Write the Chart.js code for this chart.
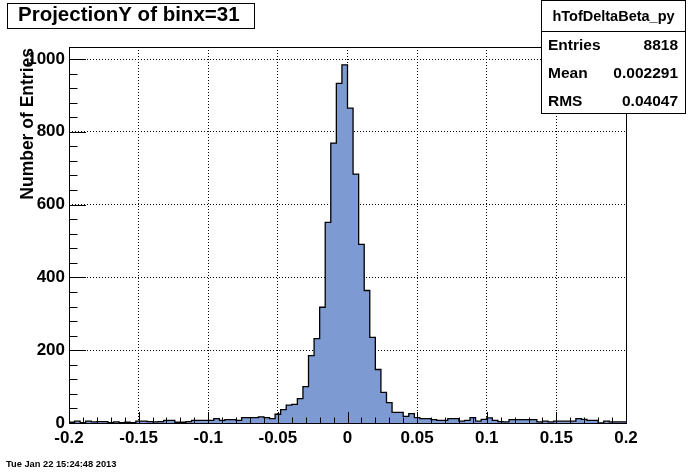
<!DOCTYPE html>
<html>
<head>
<meta charset="utf-8">
<script src="https://cdn.jsdelivr.net/npm/chart.js@4/dist/chart.umd.min.js"></script>
<style>
  html, body { margin: 0; padding: 0; background: #fff; }
  canvas { display: block; }
</style>
</head>
<body>
<canvas id="hist" width="696" height="472"></canvas>
<script>
// histogram binning
const xMin = -0.2;
const xMax = 0.2;
const binWidth = 0.004;

// bin contents (100 bins)
const binCounts = [
  2, 2, 5, 1, 5, 3, 4, 4, 1, 3,
  1, 2, 1, 5, 5, 4, 3, 4, 7, 7,
  2, 2, 4, 7, 7, 7, 7, 12, 7, 9,
  9, 7, 15, 15, 15, 17, 15, 12, 24, 37,
  49, 51, 67, 100, 185, 232, 318, 551, 769, 933,
  984, 865, 684, 491, 364, 235, 147, 84, 56, 29,
  29, 18, 26, 15, 12, 12, 9, 7, 7, 12,
  12, 5, 7, 15, 5, 10, 14, 7, 4, 3,
  9, 9, 9, 9, 9, 3, 5, 3, 5, 5,
  5, 5, 12, 10, 7, 7, 0, 5, 3, 3
];

// axes
const yMax = 1033;
const xTickValues = [-0.2, -0.15, -0.1, -0.05, 0, 0.05, 0.1, 0.15, 0.2];
const xTickLabels = ['-0.2', '-0.15', '-0.1', '-0.05', '0', '0.05', '0.1', '0.15', '0.2'];
const xMinorStep = 0.01;
const yTickValues = [0, 200, 400, 600, 800, 1000];
const yTickLabels = ['0', '200', '400', '600', '800', '1000'];
const yMinorStep = 40;

// texts
const titleText = 'ProjectionY of binx=31';
const yTitle = 'Number of Entries';
const statsName = 'hTofDeltaBeta_py';
const statsLabels = ['Entries', 'Mean', 'RMS'];
const statsValues = ['8818', '0.002291', '0.04047'];
const dateText = 'Tue Jan 22 15:24:48 2013';

const FONT = '"Liberation Sans", Arial, Helvetica, sans-serif';
const fillColor = '#7d9bd2';

// build step points at the left edge of each bin, plus the closing edge
const points = binCounts.map((c, i) => ({ x: xMin + i * binWidth, y: c }));
points.push({ x: xMax, y: binCounts[binCounts.length - 1] });

// ROOT-like frame, ticks and boxes
const rootStyle = {
  id: 'rootStyle',
  beforeDraw(chart) {
    const ctx = chart.ctx;
    ctx.save();
    ctx.fillStyle = '#fff';
    ctx.fillRect(0, 0, chart.width, chart.height);
    ctx.restore();
  },
  afterDatasetsDraw(chart) {
    const { ctx, chartArea: a, scales: { x, y } } = chart;
    ctx.save();
    ctx.strokeStyle = '#000';
    ctx.lineWidth = 1;

    // x ticks (inside the frame)
    const nx = Math.round((xMax - xMin) / xMinorStep);
    for (let i = 0; i <= nx; i++) {
      const v = xMin + i * xMinorStep;
      const px = Math.round(x.getPixelForValue(v)) + 0.5;
      const major = i % 5 === 0;
      const len = major ? 11 : 5.5;
      ctx.beginPath();
      ctx.moveTo(px, a.bottom);
      ctx.lineTo(px, a.bottom - len);
      ctx.stroke();
    }
    // y ticks
    for (let v = 0; v <= yMax; v += yMinorStep) {
      const py = Math.round(y.getPixelForValue(v)) + 0.5;
      const major = v % 200 === 0;
      const len = major ? 17 : 8.5;
      ctx.beginPath();
      ctx.moveTo(a.left, py);
      ctx.lineTo(a.left + len, py);
      ctx.stroke();
    }

    // frame
    ctx.strokeRect(a.left + 0.5, a.top + 0.5, a.right - a.left, a.bottom - a.top);
    ctx.restore();
  },
  afterDraw(chart) {
    const ctx = chart.ctx;
    ctx.save();
    ctx.fillStyle = '#000';
    ctx.strokeStyle = '#000';
    ctx.lineWidth = 1;

    // title box
    ctx.fillStyle = '#fff';
    ctx.fillRect(7.5, 3.5, 247, 25);
    ctx.strokeRect(7.5, 3.5, 247, 25);
    ctx.fillStyle = '#000';
    ctx.font = 'bold 20.5px ' + FONT;
    ctx.textBaseline = 'alphabetic';
    ctx.textAlign = 'left';
    ctx.fillText(titleText, 18, 21);

    // stats box
    const bx = 541.5, by = 0.5, bw = 144, bh = 113;
    ctx.fillStyle = '#fff';
    ctx.fillRect(bx, by, bw, bh);
    ctx.strokeRect(bx, by, bw, bh);
    ctx.beginPath();
    ctx.moveTo(bx, 31.5);
    ctx.lineTo(bx + bw, 31.5);
    ctx.stroke();
    ctx.fillStyle = '#000';
    ctx.font = 'bold 14.5px ' + FONT;
    ctx.textAlign = 'center';
    ctx.fillText(statsName, bx + bw / 2, 21);
    ctx.font = 'bold 15.5px ' + FONT;
    statsLabels.forEach((lab, i) => {
      const base = 50 + i * 28;
      ctx.textAlign = 'left';
      ctx.fillText(lab, 548, base);
      ctx.textAlign = 'right';
      ctx.fillText(statsValues[i], 678, base);
    });

    // y axis title
    ctx.save();
    ctx.translate(33, 48);
    ctx.rotate(-Math.PI / 2);
    ctx.font = 'bold 17.5px ' + FONT;
    ctx.textAlign = 'right';
    ctx.fillText(yTitle, 0, 0);
    ctx.restore();

    // date stamp
    ctx.font = 'bold 9.3px ' + FONT;
    ctx.textAlign = 'left';
    ctx.fillText(dateText, 6, 467);
    ctx.restore();
  }
};

const tickFont = { family: FONT, size: 17, weight: 'bold' };

new Chart(document.getElementById('hist').getContext('2d'), {
  type: 'line',
  data: {
    datasets: [{
      data: points,
      stepped: 'after',
      borderColor: '#000',
      borderWidth: 1.3,
      backgroundColor: fillColor,
      fill: 'origin',
      pointRadius: 0,
      tension: 0
    }]
  },
  options: {
    responsive: false,
    animation: false,
    events: [],
    layout: { padding: { top: 47, right: 70, left: 0, bottom: 0 } },
    plugins: { legend: { display: false }, tooltip: { enabled: false } },
    scales: {
      x: {
        type: 'linear',
        min: xMin,
        max: xMax,
        afterBuildTicks: s => { s.ticks = xTickValues.map(v => ({ value: v })); },
        afterFit: s => { s.height = 49; },
        grid: { drawTicks: false, color: '#000', lineWidth: 1 },
        border: { display: false, dash: [1, 2] },
        ticks: {
          callback: (v, i) => xTickLabels[i],
          font: tickFont,
          color: '#000',
          padding: 5,
          maxRotation: 0,
          autoSkip: false
        }
      },
      y: {
        type: 'linear',
        min: 0,
        max: yMax,
        afterBuildTicks: s => { s.ticks = yTickValues.map(v => ({ value: v })); },
        afterFit: s => { s.width = 69; },
        grid: { drawTicks: false, color: '#000', lineWidth: 1 },
        border: { display: false, dash: [1, 2] },
        ticks: {
          callback: (v, i) => yTickLabels[i],
          font: tickFont,
          color: '#000',
          padding: 4,
          autoSkip: false
        }
      }
    }
  },
  plugins: [rootStyle]
});
</script>
</body>
</html>
